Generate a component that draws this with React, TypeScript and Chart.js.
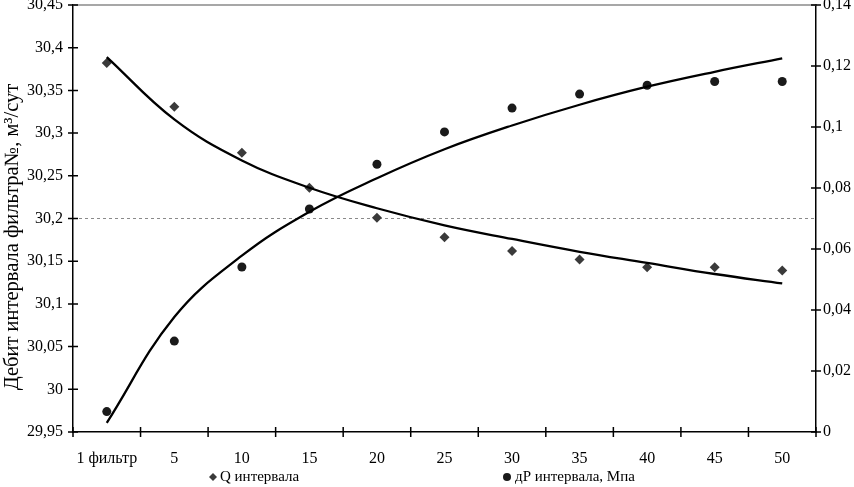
import React, { useEffect, useRef } from 'react';
import { Chart, registerables } from 'chart.js';

Chart.register(...registerables);

const categories = ['1 фильтр', '5', '10', '15', '20', '25', '30', '35', '40', '45', '50'];
const qValues = [30.382, 30.331, 30.277, 30.236, 30.201, 30.178, 30.162, 30.152, 30.143, 30.143, 30.139];
const dpValues = [0.0067, 0.0298, 0.0541, 0.0731, 0.0878, 0.0984, 0.1062, 0.1108, 0.1137, 0.1149, 0.1149];
const qTrend = [30.389, 30.316, 30.268, 30.236, 30.212, 30.192, 30.176, 30.161, 30.148, 30.135, 30.124];
const dpTrend = [0.003, 0.0377, 0.0578, 0.0722, 0.0832, 0.0927, 0.1005, 0.1073, 0.1132, 0.1181, 0.1225];
const leftTicks = [29.95, 30, 30.05, 30.1, 30.15, 30.2, 30.25, 30.3, 30.35, 30.4, 30.45];
const rightTicks = [0, 0.02, 0.04, 0.06, 0.08, 0.1, 0.12, 0.14];
const yTitle = 'Дебит интервала фильтра№, м³/сут';
const qLabel = 'Q интервала';
const dpLabel = 'дР интервала, Мпа';

const FONT = '"Liberation Serif", "DejaVu Serif", serif';
const fmt = (v: number) => String(Number(v.toFixed(3))).replace('.', ',');

const decor = {
  id: 'decor',
  beforeDatasetsDraw(chart: any) {
    const { ctx, chartArea, scales } = chart;
    const y = scales.y;
    ctx.save();
    const yt = y.getPixelForValue(30.45);
    ctx.strokeStyle = '#8a8a8a';
    ctx.lineWidth = 1.5;
    ctx.beginPath();
    ctx.moveTo(chartArea.left, yt);
    ctx.lineTo(chartArea.right, yt);
    ctx.stroke();
    const yd = y.getPixelForValue(30.2);
    ctx.setLineDash([3, 3]);
    ctx.strokeStyle = '#8a8a8a';
    ctx.lineWidth = 1;
    ctx.beginPath();
    ctx.moveTo(chartArea.left, yd);
    ctx.lineTo(chartArea.right, yd);
    ctx.stroke();
    ctx.restore();
  },
  afterDraw(chart: any) {
    const { ctx, chartArea, scales } = chart;
    const { left, right, bottom } = chartArea;
    ctx.save();
    ctx.strokeStyle = '#000';
    ctx.lineWidth = 1.5;
    ctx.beginPath();
    leftTicks.forEach((v) => {
      const p = scales.y.getPixelForValue(v);
      ctx.moveTo(left - 5, p);
      ctx.lineTo(left + 5, p);
    });
    rightTicks.forEach((v) => {
      const p = scales.y2.getPixelForValue(v);
      ctx.moveTo(right - 5, p);
      ctx.lineTo(right + 5, p);
    });
    const x = scales.x;
    const step = x.getPixelForValue(1) - x.getPixelForValue(0);
    for (let i = 0; i <= categories.length; i++) {
      const p = x.getPixelForValue(0) + (i - 0.5) * step;
      ctx.moveTo(p, bottom - 5);
      ctx.lineTo(p, bottom + 5);
    }
    ctx.stroke();

    // y title
    ctx.fillStyle = '#000';
    ctx.font = `20.5px ${FONT}`;
    ctx.textAlign = 'center';
    ctx.textBaseline = 'middle';
    ctx.save();
    ctx.translate(13, 237);
    ctx.rotate(-Math.PI / 2);
    ctx.fillText(yTitle, 0, 0);
    ctx.restore();

    // legend
    const ly = 477;
    ctx.font = `15px ${FONT}`;
    ctx.textAlign = 'left';
    ctx.fillStyle = '#3a3a3a';
    ctx.beginPath();
    const dx = 213;
    ctx.moveTo(dx, ly - 4);
    ctx.lineTo(dx + 4, ly);
    ctx.lineTo(dx, ly + 4);
    ctx.lineTo(dx - 4, ly);
    ctx.closePath();
    ctx.fill();
    ctx.fillStyle = '#000';
    ctx.fillText(chart.data.datasets[0].label, 220, ly);
    ctx.fillStyle = '#1a1a1a';
    ctx.beginPath();
    ctx.arc(507, ly, 4, 0, Math.PI * 2);
    ctx.fill();
    ctx.fillStyle = '#000';
    ctx.fillText(chart.data.datasets[1].label, 515, ly);
    ctx.restore();
  },
};

export default function App() {
  const ref = useRef<HTMLCanvasElement>(null);
  useEffect(() => {
    document.body.style.margin = '0';
    const canvas = ref.current;
    if (!canvas) return;
    const chart = new Chart(canvas, {
      type: 'line',
      data: {
        labels: categories,
        datasets: [
          {
            label: qLabel,
            data: qValues,
            yAxisID: 'y',
            showLine: false,
            pointStyle: 'rectRot',
            pointRadius: 5,
            pointBackgroundColor: '#3a3a3a',
            pointBorderColor: '#3a3a3a',
            pointBorderWidth: 0,
            order: 2,
          },
          {
            label: dpLabel,
            data: dpValues,
            yAxisID: 'y2',
            showLine: false,
            pointStyle: 'circle',
            pointRadius: 4.5,
            pointBackgroundColor: '#1a1a1a',
            pointBorderColor: '#1a1a1a',
            pointBorderWidth: 0,
            order: 2,
          },
          {
            label: 'trendQ',
            data: qTrend,
            yAxisID: 'y',
            borderColor: '#000',
            borderWidth: 2.3,
            pointRadius: 0,
            tension: 0.4,
            fill: false,
            order: 1,
          },
          {
            label: 'trendDP',
            data: dpTrend,
            yAxisID: 'y2',
            borderColor: '#000',
            borderWidth: 2.3,
            pointRadius: 0,
            tension: 0.4,
            fill: false,
            order: 1,
          },
        ],
      },
      options: {
        animation: false,
        responsive: true,
        maintainAspectRatio: false,
        layout: { padding: { top: 5, bottom: 20, left: 0, right: 0 } },
        plugins: {
          legend: { display: false },
          tooltip: { enabled: false },
        },
        scales: {
          x: {
            type: 'category',
            offset: true,
            grid: { display: false, drawTicks: false, offset: true },
            border: { display: true, color: '#000', width: 1.5 },
            ticks: {
              color: '#000',
              font: { family: FONT, size: 16 },
              padding: 17,
              maxRotation: 0,
              autoSkip: false,
            },
            afterFit(s: any) {
              s.height = 35;
              s.paddingLeft = 0;
              s.paddingRight = 0;
            },
          },
          y: {
            type: 'linear',
            position: 'left',
            min: 29.95,
            max: 30.45,
            grid: { display: false, drawTicks: false },
            border: { display: true, color: '#000', width: 1.5 },
            ticks: {
              color: '#000',
              font: { family: FONT, size: 16 },
              padding: 10,
              callback: (v: any) => fmt(Number(v)),
            },
            afterBuildTicks(s: any) {
              s.ticks = leftTicks.map((v) => ({ value: v }));
            },
            afterFit(s: any) {
              s.width = 73;
              s.paddingTop = 0;
              s.paddingBottom = 0;
            },
          },
          y2: {
            type: 'linear',
            position: 'right',
            min: 0,
            max: 0.14,
            grid: { display: false, drawTicks: false },
            border: { display: true, color: '#000', width: 1.5 },
            ticks: {
              color: '#000',
              font: { family: FONT, size: 16 },
              padding: 7,
              callback: (v: any) => fmt(Number(v)),
            },
            afterBuildTicks(s: any) {
              s.ticks = rightTicks.map((v) => ({ value: v }));
            },
            afterFit(s: any) {
              s.width = 38;
              s.paddingTop = 0;
              s.paddingBottom = 0;
            },
          },
        },
      },
      plugins: [decor],
    } as any);
    return () => chart.destroy();
  }, []);
  return (
    <div style={{ position: 'relative', width: 854, height: 487 }}>
      <canvas ref={ref} />
    </div>
  );
}
